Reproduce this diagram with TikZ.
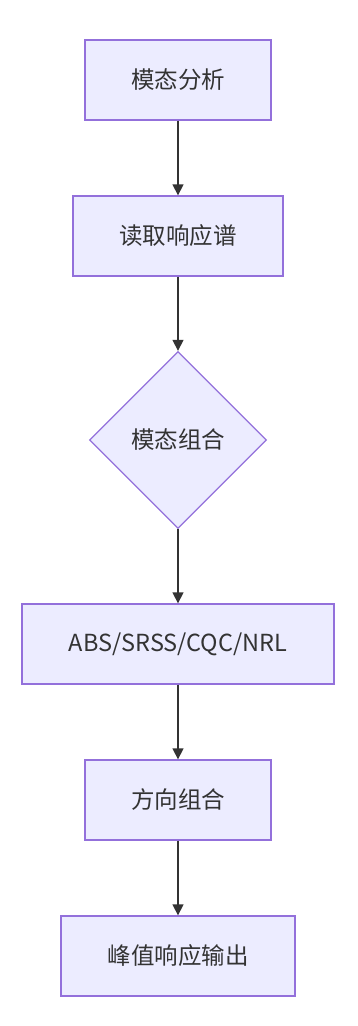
\documentclass[tikz,border=0pt]{standalone}
\usepackage{fontspec}
\setmainfont{Noto Sans CJK SC}
\usetikzlibrary{shapes.geometric,arrows.meta}
\definecolor{nodefill}{HTML}{ECECFF}
\definecolor{nodeline}{HTML}{9370DB}
\definecolor{edge}{HTML}{333333}
\definecolor{txt}{HTML}{333333}
\tikzset{
  box/.style={draw=nodeline,fill=nodefill,line width=1.3pt,minimum height=80pt,inner sep=0pt,text=txt,font=\fontsize{23.5}{28}\selectfont},
  dia/.style={diamond,draw=nodeline,fill=nodefill,line width=1.3pt,minimum width=177pt,minimum height=177pt,inner sep=0pt,text=txt,font=\fontsize{23.5}{28}\selectfont},
  conn/.style={draw=edge,line width=1.3pt,-{Triangle[length=11pt,width=11pt]}}
}
\begin{document}
\begin{tikzpicture}[x=1pt,y=-1pt]
\useasboundingbox (0,0) rectangle (357,1026);
\node[box,minimum width=186pt] (a) at (178,80) {模态分析};
\node[box,minimum width=210pt] (b) at (178,236) {读取响应谱};
\node[dia] (c) at (178,440) {模态组合};
\node[box,minimum width=312pt] (d) at (178,644) {ABS/SRSS/CQC/NRL};
\node[box,minimum width=186pt] (e) at (178,800) {方向组合};
\node[box,minimum width=234pt] (f) at (178,956) {峰值响应输出};
\draw[conn] (a) -- (b);
\draw[conn] (b) -- (c);
\draw[conn] (c) -- (d);
\draw[conn] (d) -- (e);
\draw[conn] (e) -- (f);
\end{tikzpicture}
\end{document}
